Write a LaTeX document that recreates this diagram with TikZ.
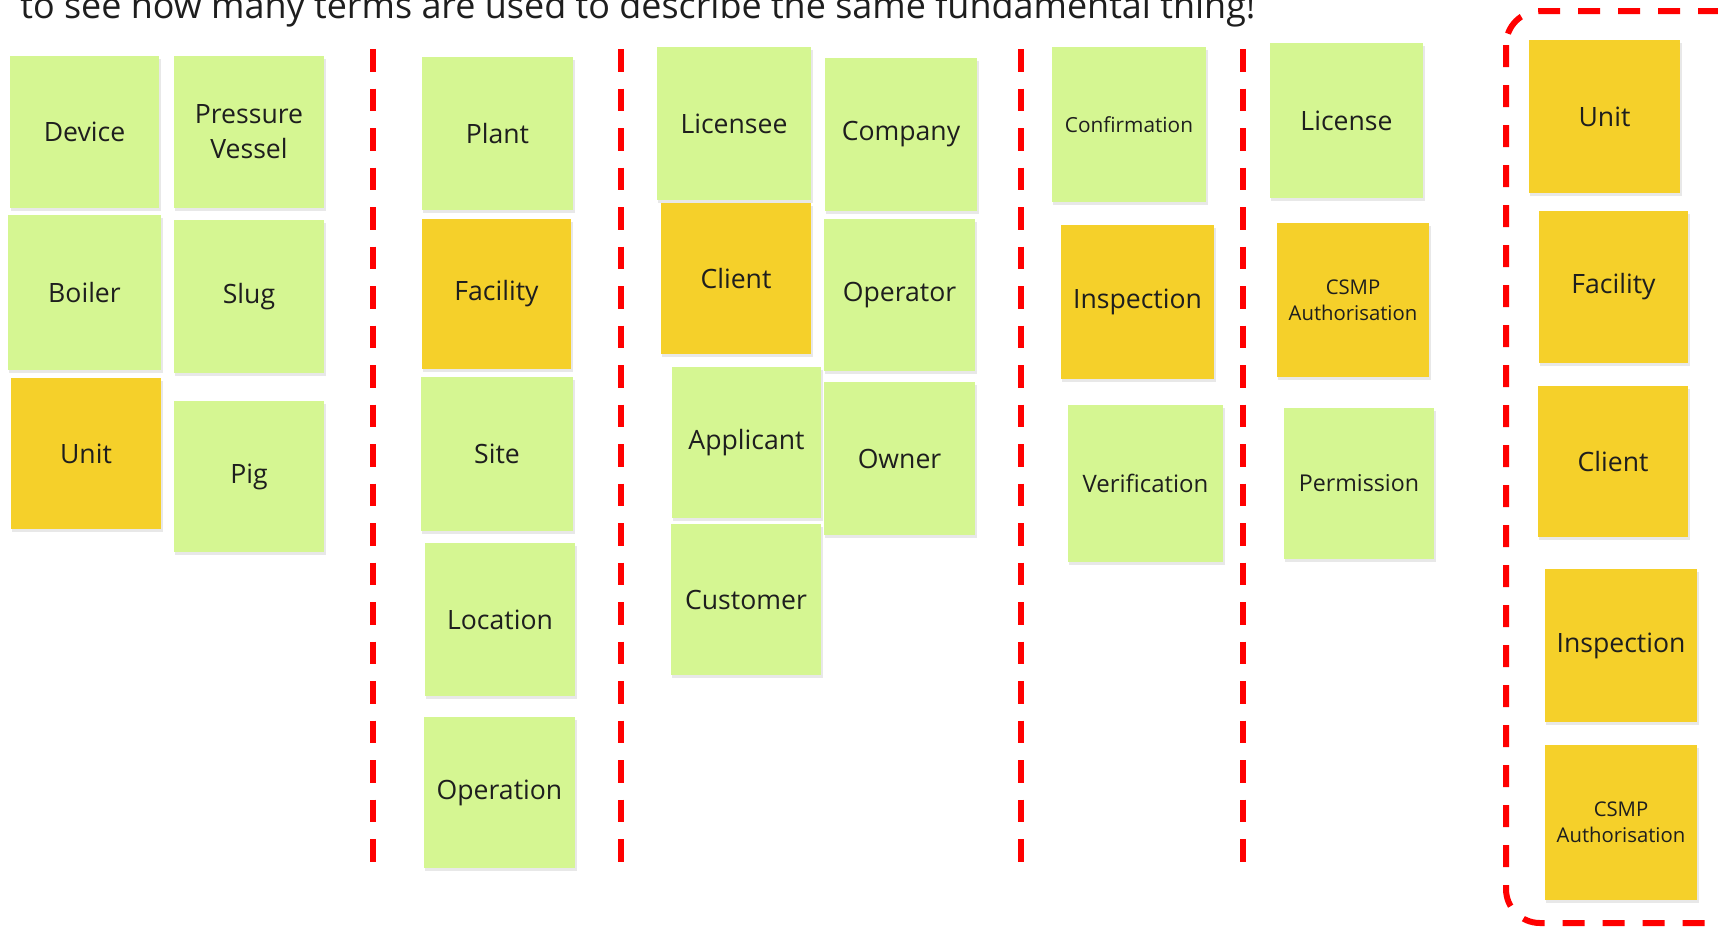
\documentclass[tikz,border=0pt]{standalone}
\usepackage{fontspec}
\setmainfont{Open Sans}
\usetikzlibrary{fit}
\definecolor{ngreen}{HTML}{D5F692}
\definecolor{nyellow}{HTML}{F5D02A}
\definecolor{ntext}{HTML}{1E1E1E}
\definecolor{dred}{HTML}{FF0000}
\tikzset{
  notebase/.style={inner sep=0pt, draw=none},
  gnote/.style={notebase, fill=ngreen},
  ynote/.style={notebase, fill=nyellow},
  notelabel/.style={inner sep=0pt, anchor=center, text=ntext},
  big/.style={font=\fontsize{13.3}{17.6}\selectfont},
  mid/.style={font=\fontsize{12}{15}\selectfont},
  midsmall/.style={font=\fontsize{11.6}{14.5}\selectfont},
  small/.style={font=\fontsize{10.4}{13.3}\selectfont},
  smaller/.style={font=\fontsize{10.15}{13.1}\selectfont},
  divider/.style={dred, line width=3pt, dash pattern=on 11.25pt off 8.5pt},
  groupbox/.style={dred, line width=3pt, dash pattern=on 11pt off 9pt, rounded corners=17pt},
  shadow/.style={fill=black, opacity=0.09}
}
% two centred lines, box depth = depth of last line
\newcommand{\twoline}[2]{\vbox{\halign{\hfil##\hfil\cr #1\cr #2\cr}}}
% name, x1, y1, x2, y2, fill style, size style, text
\newcommand{\sticky}[8]{%
  \fill[shadow] (#2+1,#3+3) rectangle (#4+2,#5+3);
  \node[#6, fit={(#2,#3)(#4,#5)}] (#1) {};
  \node[notelabel, #7] (#1-t) at (#1.center) {#8};
}
\begin{document}
\begin{tikzpicture}[x=0.5pt, y=-0.5pt]
\useasboundingbox (0,0) rectangle (1718,928);
\clip (0,0) rectangle (1718,928);
\fill[white] (0,0) rectangle (1718,928);

% title (clipped at top, as in the reference)
\node[anchor=base west, inner sep=0pt, text=ntext] (title) at (20,18)
  {\resizebox{617.5pt}{!}{\fontsize{17}{20}\selectfont to see how many terms are used to describe the same fundamental thing!}};

% dividers
\coordinate (d1t) at (373,49); \coordinate (d1b) at (373,862);
\coordinate (d2t) at (621,49); \coordinate (d2b) at (621,862);
\coordinate (d3t) at (1021,49); \coordinate (d3b) at (1021,862);
\coordinate (d4t) at (1243,49); \coordinate (d4b) at (1243,862);
\draw[divider] (d1t) -- (d1b);
\draw[divider] (d2t) -- (d2b);
\draw[divider] (d3t) -- (d3b);
\draw[divider] (d4t) -- (d4b);

% column 1
\sticky{device}{10}{56}{159}{208}{gnote}{big}{Device}
\sticky{pvessel}{174}{56}{324}{208}{gnote}{big}{\twoline{Pressure}{Vessel}}
\sticky{boiler}{8}{215}{161}{370}{gnote}{big}{Boiler}
\sticky{slug}{174}{220}{324}{373}{gnote}{big}{Slug}
\sticky{unitA}{11}{378}{161}{529}{ynote}{big}{Unit}
\sticky{pig}{174}{401}{324}{552}{gnote}{big}{Pig}

% column 2
\sticky{plant}{422}{57}{573}{210}{gnote}{big}{Plant}
\sticky{facilityA}{422}{219}{571}{369}{ynote}{big}{Facility}
\sticky{site}{421}{377}{573}{531}{gnote}{big}{Site}
\sticky{location}{425}{543}{575}{696}{gnote}{big}{Location}
\sticky{operation}{424}{717}{575}{868}{gnote}{big}{Operation}

% column 3
\sticky{licensee}{657}{47}{811}{200}{gnote}{big}{Licensee}
\sticky{company}{825}{58}{977}{211}{gnote}{big}{Company}
\sticky{clientA}{661}{203}{811}{354}{ynote}{big}{Client}
\sticky{operator}{824}{219}{975}{371}{gnote}{big}{Operator}
\sticky{applicant}{672}{367}{821}{518}{gnote}{big}{Applicant}
\sticky{owner}{824}{382}{975}{535}{gnote}{big}{Owner}
\sticky{customer}{671}{524}{821}{675}{gnote}{big}{Customer}

% column 4
\sticky{confirmation}{1052}{47}{1206}{202}{gnote}{small}{Confirmation}
\sticky{inspectionA}{1061}{225}{1214}{379}{ynote}{big}{Inspection}
\sticky{verification}{1068}{405}{1223}{562}{gnote}{mid}{Verification}

% column 5
\sticky{license}{1270}{43}{1423}{198}{gnote}{big}{License}
\sticky{csmpA}{1277}{223}{1429}{377}{ynote}{smaller}{\twoline{CSMP}{Authorisation}}
\sticky{permission}{1284}{408}{1434}{559}{gnote}{midsmall}{Permission}

% group box
\coordinate (gbnw) at (1506,11);
\coordinate (gbse) at (1760,923);
\draw[groupbox] (gbnw) rectangle (gbse);

\sticky{unitB}{1529}{40}{1680}{193}{ynote}{big}{Unit}
\sticky{facilityB}{1539}{211}{1688}{363}{ynote}{big}{Facility}
\sticky{clientB}{1538}{386}{1688}{537}{ynote}{big}{Client}
\sticky{inspectionB}{1545}{569}{1697}{722}{ynote}{big}{Inspection}
\sticky{csmpB}{1545}{745}{1697}{900}{ynote}{smaller}{\twoline{CSMP}{Authorisation}}
\end{tikzpicture}
\end{document}
